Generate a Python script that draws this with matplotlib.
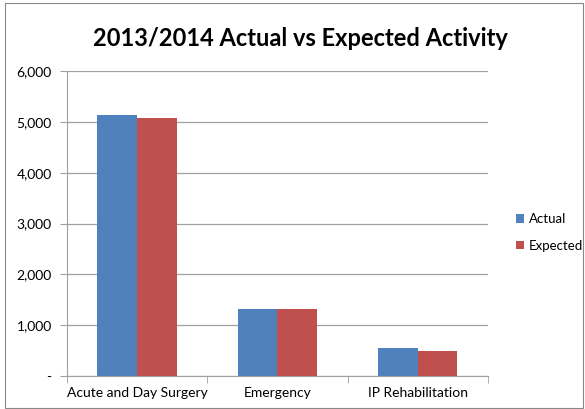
import numpy as np
import matplotlib
matplotlib.use("Agg")
from matplotlib import pyplot as plt
from matplotlib.patches import Rectangle
from matplotlib.ticker import FuncFormatter

categories = ["Acute and Day Surgery", "Emergency", "IP Rehabilitation"]
actual = [5130, 1325, 545]
expected = [5075, 1325, 495]

plt.rcParams['font.family'] = ['Lato', 'DejaVu Sans']

fig = plt.figure(figsize=(5.85, 4.09), dpi=100)
fig.patches.append(Rectangle((0.009, 0.003), 0.988, 0.99, transform=fig.transFigure,
                             fill=False, edgecolor='#888888', linewidth=0.8))
ax = fig.add_axes([0.1145, 0.0807, 0.7195, 0.745])

x = np.arange(len(categories))
w = 0.283
ax.bar(x - w / 2, actual, w, color='#4f81bd', label='Actual')
ax.bar(x + w / 2, expected, w, color='#c0504d', label='Expected')

ax.set_xlim(-0.5, len(categories) - 0.5)
ax.set_ylim(0, 6000)
ax.set_yticks(range(0, 6001, 1000))
ax.yaxis.set_major_formatter(FuncFormatter(lambda v, p: '-' if v == 0 else f'{int(v):,}'))
ax.grid(axis='y', color='#a0a0a0', linewidth=0.9)
ax.set_axisbelow(True)

ax.set_xticks(x)
ax.set_xticklabels(categories)
ax.set_xticks(np.arange(-0.5, len(categories)), minor=True)
ax.tick_params(axis='x', which='major', length=0, pad=8, labelsize=10)
ax.tick_params(axis='x', which='minor', length=5, color='#a0a0a0')
ax.tick_params(axis='y', length=5, color='#a0a0a0', labelsize=10, pad=6)

for s in ['top', 'right']:
    ax.spines[s].set_visible(False)
ax.spines['left'].set_color('#a0a0a0')
ax.spines['bottom'].set_color('#a0a0a0')

fig.text(0.513, 0.905, "2013/2014 Actual vs Expected Activity", ha='center', va='center',
         fontsize=17, fontweight='bold')
fig.legend(loc='center left', bbox_to_anchor=(0.862, 0.432), frameon=False,
           fontsize=9.5, handlelength=0.6, handleheight=0.6, handletextpad=0.35,
           labelspacing=1.1)

fig.savefig('out.png', dpi=100)
